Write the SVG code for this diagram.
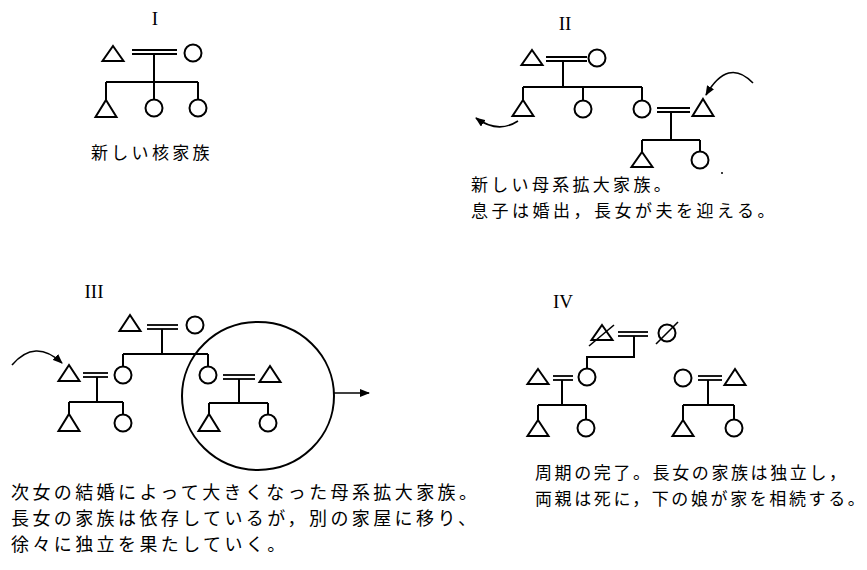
<svg xmlns="http://www.w3.org/2000/svg" width="867" height="570" viewBox="0 0 867 570">
<defs>
<style>
.ln{stroke:#000;stroke-width:2;fill:none;stroke-linecap:butt}
.dbl{stroke:#000;stroke-width:1.8;fill:none}
.p{stroke:#000;stroke-width:2;fill:#fff;stroke-linejoin:miter}
.ar{stroke:#000;stroke-width:1.6;fill:none}
.num{font-family:"Liberation Serif",serif;font-size:19px;fill:#000;text-anchor:middle}
.jp{font-family:"Noto Sans CJK JP","Noto Sans CJK SC",sans-serif;font-size:17px;fill:#000;letter-spacing:3.3px}
.jp3{font-size:18px;letter-spacing:3.4px}
.jp4{letter-spacing:2.6px}
</style>
<marker id="ah" viewBox="0 0 10 8" refX="9" refY="4" markerWidth="10" markerHeight="8" markerUnits="userSpaceOnUse" orient="auto">
<path d="M0,0 L10,4 L0,8 Z" fill="#000"/>
</marker>
</defs>
<rect width="867" height="570" fill="#fff"/>

<g id="connectors">
<!-- Panel I -->
<line class="dbl" x1="132" y1="50" x2="177" y2="50"/>
<line class="dbl" x1="132" y1="54" x2="177" y2="54"/>
<path class="ln" d="M154,54 V82 M106,82 H198 M106,82 V100 M154,82 V99.5 M198,82 V99.5"/>
<!-- Panel II -->
<line class="dbl" x1="546" y1="57" x2="587" y2="57"/>
<line class="dbl" x1="546" y1="61" x2="587" y2="61"/>
<path class="ln" d="M563,61 V87 M523,87 H642 M523,87 V100 M583,87 V100.5 M642,87 V100.5"/>
<line class="dbl" x1="657" y1="108" x2="690" y2="108"/>
<line class="dbl" x1="657" y1="112" x2="690" y2="112"/>
<path class="ln" d="M671,112 V140 M642,140 H700 M642,140 V152 M700,140 V151.5"/>
<path class="ar" d="M518,121 Q498,134 476,118" marker-end="url(#ah)"/>
<path class="ar" d="M753,83 Q728,57 706,95" marker-end="url(#ah)"/>
<!-- Panel III -->
<line class="dbl" x1="147" y1="325" x2="178" y2="325"/>
<line class="dbl" x1="147" y1="329" x2="178" y2="329"/>
<path class="ln" d="M162,329 V354 M123,354 H208 M123,354 V366.5 M208,354 V366.5"/>
<line class="dbl" x1="83" y1="373" x2="108" y2="373"/>
<line class="dbl" x1="83" y1="377" x2="108" y2="377"/>
<path class="ln" d="M97,377 V402 M69,402 H123 M69,402 V414 M123,402 V414.5"/>
<line class="dbl" x1="223" y1="375" x2="255" y2="375"/>
<line class="dbl" x1="223" y1="379" x2="255" y2="379"/>
<path class="ln" d="M239,379 V403 M209,403 H268 M209,403 V414 M268,403 V414.5"/>
<ellipse class="ln" cx="258" cy="396" rx="76" ry="74" stroke-width="1.8"/>
<line class="ar" x1="334" y1="393" x2="369" y2="393" marker-end="url(#ah)"/>
<path class="ar" d="M12,365 Q35,338 62,363" marker-end="url(#ah)"/>
<!-- Panel IV -->
<line class="dbl" x1="618" y1="332" x2="648" y2="332"/>
<line class="dbl" x1="618" y1="336" x2="648" y2="336"/>
<path class="ln" d="M634,336 V357 H587 V369"/>
<line class="dbl" x1="553" y1="376" x2="573" y2="376"/>
<line class="dbl" x1="553" y1="380" x2="573" y2="380"/>
<path class="ln" d="M562,380 V405 M538,405 H586 M538,405 V420 M586,405 V419.5"/>
<line class="dbl" x1="698" y1="376" x2="722" y2="376"/>
<line class="dbl" x1="698" y1="380" x2="722" y2="380"/>
<path class="ln" d="M708,380 V405 M683,405 H734 M683,405 V420 M734,405 V419.5"/>
</g>

<!-- Panel I nodes -->
<g id="I-label"><text class="num" x="155" y="25">I</text></g>
<g id="I-father"><polygon class="p" points="113,46 123.5,61 102.5,61"/></g>
<g id="I-mother"><circle class="p" cx="193" cy="53" r="8.5"/></g>
<g id="I-son"><polygon class="p" points="106,100 116.5,117 95.5,117"/></g>
<g id="I-daughter1"><circle class="p" cx="154" cy="108" r="8.5"/></g>
<g id="I-daughter2"><circle class="p" cx="198" cy="108" r="8.5"/></g>
<g id="I-caption"><text class="jp" x="91" y="159">新しい核家族</text></g>

<!-- Panel II nodes -->
<g id="II-label"><text class="num" x="565" y="30">II</text></g>
<g id="II-father"><polygon class="p" points="532,50 542.5,65 521.5,65"/></g>
<g id="II-mother"><circle class="p" cx="597" cy="58" r="8.5"/></g>
<g id="II-son"><polygon class="p" points="523,100 533.5,116 512.5,116"/></g>
<g id="II-daughter2"><circle class="p" cx="583" cy="109" r="8.5"/></g>
<g id="II-daughter1"><circle class="p" cx="642" cy="109" r="8.5"/></g>
<g id="II-husband"><polygon class="p" points="703,99 713.5,116 692.5,116"/></g>
<g id="II-grandson"><polygon class="p" points="642,152 652.5,167 631.5,167"/></g>
<g id="II-granddaughter"><circle class="p" cx="700" cy="160" r="8.5"/></g>
<g id="II-dot"><circle cx="722" cy="173" r="1" fill="#000"/></g>
<g id="II-caption">
<text class="jp" x="471" y="191">新しい母系拡大家族。</text>
<text class="jp" x="471" y="217" style="letter-spacing:3.5px">息子は婚出，長女が夫を迎える。</text>
</g>

<!-- Panel III nodes -->
<g id="III-label"><text class="num" x="94" y="298">III</text></g>
<g id="III-father"><polygon class="p" points="130,315 140.5,331 119.5,331"/></g>
<g id="III-mother"><circle class="p" cx="195" cy="325" r="8.5"/></g>
<g id="III-daughter2"><circle class="p" cx="123" cy="375" r="8.5"/></g>
<g id="III-daughter1"><circle class="p" cx="208" cy="375" r="8.5"/></g>
<g id="III-husband2"><polygon class="p" points="69,365 79.5,381 58.5,381"/></g>
<g id="III-husband1"><polygon class="p" points="270,366 280.5,382 259.5,382"/></g>
<g id="III-child1"><polygon class="p" points="69,414 79.5,431 58.5,431"/></g>
<g id="III-child2"><circle class="p" cx="123" cy="423" r="8.5"/></g>
<g id="III-child3"><polygon class="p" points="209,414 219.5,431 198.5,431"/></g>
<g id="III-child4"><circle class="p" cx="268" cy="423" r="8.5"/></g>
<g id="III-caption">
<text class="jp jp3" x="11" y="499">次女の結婚によって大きくなった母系拡大家族。</text>
<text class="jp jp3" x="11" y="525">長女の家族は依存しているが，別の家屋に移り、</text>
<text class="jp jp3" x="11" y="551">徐々に独立を果たしていく。</text>
</g>

<!-- Panel IV nodes -->
<g id="IV-label"><text class="num" x="563" y="308">IV</text></g>
<g id="IV-father-deceased"><polygon class="p" points="602,325 612.5,340 591.5,340"/><line class="ar" x1="589" y1="346" x2="614" y2="325"/></g>
<g id="IV-mother-deceased"><circle class="p" cx="667" cy="333" r="8.5"/><line class="ar" x1="656" y1="344" x2="678" y2="322"/></g>
<g id="IV-daughter1"><circle class="p" cx="587" cy="377" r="8.5"/></g>
<g id="IV-husband1"><polygon class="p" points="538,369 548.5,384 527.5,384"/></g>
<g id="IV-child1"><polygon class="p" points="538,420 548.5,436 527.5,436"/></g>
<g id="IV-child2"><circle class="p" cx="586" cy="428" r="8.5"/></g>
<g id="IV-daughter2"><circle class="p" cx="683" cy="378" r="8.5"/></g>
<g id="IV-husband2"><polygon class="p" points="735,369 745.5,385 724.5,385"/></g>
<g id="IV-child3"><polygon class="p" points="683,420 693.5,436 672.5,436"/></g>
<g id="IV-child4"><circle class="p" cx="734" cy="428" r="8.5"/></g>
<g id="IV-caption">
<text class="jp jp4" x="535" y="479">周期の完了。長女の家族は独立し，</text>
<text class="jp jp4" x="535" y="505">両親は死に，下の娘が家を相続する。</text>
</g>
</svg>
